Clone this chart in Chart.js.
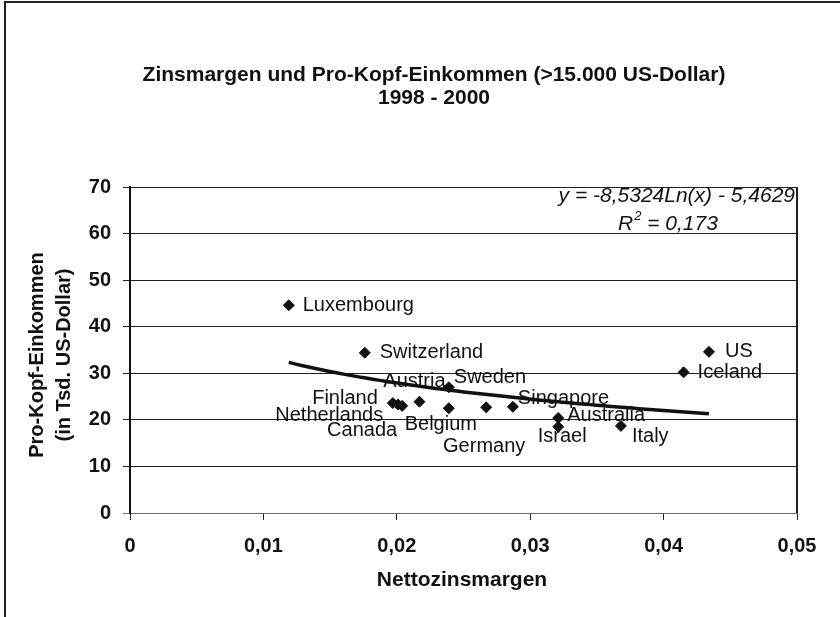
<!DOCTYPE html>
<html>
<head>
<meta charset="utf-8">
<script src="https://cdn.jsdelivr.net/npm/chart.js@4.4.0/dist/chart.umd.min.js"></script>
<style>
    html, body { margin: 0; padding: 0; background: #fff; }
</style>
</head>
<body>
<canvas id="zinsChart" width="840" height="617"></canvas>
<script>
// Werte
var countries = ['Luxembourg', 'Switzerland', 'Finland', 'Netherlands', 'Canada', 'Austria', 'Sweden',
    'Belgium', 'Germany', 'Singapore', 'Australia', 'Israel', 'Italy', 'Iceland', 'US'];
var margins = [0.0119, 0.0176, 0.0197, 0.0201, 0.0204, 0.0217, 0.0239,
    0.0239, 0.0267, 0.0287, 0.0321, 0.0321, 0.0368, 0.0415, 0.0434];
var incomes = [44.6, 34.4, 23.6, 23.3, 23.0, 23.9, 27.0,
    22.5, 22.7, 22.8, 20.4, 18.5, 18.7, 30.2, 34.6];

var xTicks = [0, 0.01, 0.02, 0.03, 0.04, 0.05];
var yTicks = [0, 10, 20, 30, 40, 50, 60, 70];

// Trendlinie laut Diagramm: y = -8,5324 Ln(x) - 5,4629
var trendA = -8.5324;
var trendB = -5.4629;
var trendLabel = 'y = -8,5324Ln(x) - 5,4629';
var trendR2 = '0,173';

// Lage der Beschriftungen relativ zum Punkt (Pixel)
var labelDx = [14, 15, -15, -15, -5, -5, 5, -8, -2, 5, 9, 4, 11, 14, 16];
var labelDy = [0, 0, -5, 11, 25, -20, -10, 16, 39, -8, -3, 10, 11, 0, 0];
var labelAlign = ['left', 'left', 'right', 'right', 'right', 'center', 'left',
    'center', 'center', 'left', 'left', 'center', 'left', 'left', 'left'];

var FONT = '"Liberation Sans", Arial, sans-serif';

var points = margins.map(function (m, i) { return { x: m, y: incomes[i] }; });

var trendPoints = [];
var xMin = Math.min.apply(null, margins);
var xMax = Math.max.apply(null, margins);
for (var k = 0; k <= 60; k++) {
    var xv = xMin + (xMax - xMin) * k / 60;
    trendPoints.push({ x: xv, y: trendA * Math.log(xv) + trendB });
}

var pointLabels = {
    id: 'pointLabels',
    afterDatasetsDraw: function (chart) {
        var ctx = chart.ctx;
        var meta = chart.getDatasetMeta(1);
        ctx.save();
        ctx.font = '20px ' + FONT;
        ctx.fillStyle = '#111';
        ctx.textBaseline = 'middle';
        meta.data.forEach(function (pt, i) {
            ctx.textAlign = labelAlign[i];
            ctx.fillText(countries[i], pt.x + labelDx[i], pt.y + labelDy[i]);
        });
        ctx.restore();
    }
};

var decorations = {
    id: 'decorations',
    afterDraw: function (chart) {
        var ctx = chart.ctx;
        var area = chart.chartArea;
        ctx.save();
        // Rahmen
        ctx.strokeStyle = '#222';
        ctx.lineWidth = 2;
        ctx.beginPath();
        ctx.moveTo(5, 617);
        ctx.lineTo(5, 2);
        ctx.lineTo(840, 2);
        ctx.stroke();
        ctx.beginPath();
        ctx.moveTo(area.right, area.top);
        ctx.lineTo(area.right, area.bottom);
        ctx.stroke();

        ctx.fillStyle = '#111';
        ctx.textAlign = 'center';
        ctx.textBaseline = 'middle';
        ctx.font = 'bold 21px ' + FONT;
        ctx.fillText('Zinsmargen und Pro-Kopf-Einkommen (>15.000 US-Dollar)', 434, 75);
        ctx.fillText('1998 - 2000', 434, 98);

        ctx.fillText('Nettozinsmargen', 462, 580);

        ctx.save();
        ctx.translate(37, 355);
        ctx.rotate(-Math.PI / 2);
        ctx.font = 'bold 20px ' + FONT;
        ctx.fillText('Pro-Kopf-Einkommen', 0, 0);
        ctx.fillText('(in Tsd. US-Dollar)', 0, 27);
        ctx.restore();

        // Gleichung der Trendlinie
        ctx.font = 'italic 21px ' + FONT;
        ctx.textAlign = 'right';
        ctx.fillText(trendLabel, 795, 196);
        ctx.textAlign = 'left';
        var rx = 618;
        ctx.fillText('R', rx, 224);
        rx += ctx.measureText('R').width + 1;
        ctx.font = 'italic 13px ' + FONT;
        ctx.fillText('2', rx, 216);
        rx += ctx.measureText('2').width;
        ctx.font = 'italic 21px ' + FONT;
        ctx.fillText(' = ' + trendR2, rx, 224);
        ctx.restore();
    }
};

var ctx = document.getElementById('zinsChart').getContext('2d');
var zinsChart = new Chart(ctx, {
    type: 'scatter',
    data: {
        datasets: [{
            type: 'line',
            label: 'Trend',
            data: trendPoints,
            borderColor: '#111',
            borderWidth: 3.5,
            pointRadius: 0,
            fill: false,
            tension: 0
        }, {
            label: 'Länder',
            data: points,
            pointStyle: 'rectRot',
            pointRadius: 5.5,
            backgroundColor: '#111',
            borderColor: '#111'
        }]
    },
    options: {
        responsive: false,
        animation: false,
        layout: { padding: { top: 187, right: 43, bottom: 0, left: 0 } },
        plugins: {
            legend: { display: false },
            tooltip: { enabled: false },
            title: { display: false }
        },
        scales: {
            x: {
                type: 'linear',
                min: 0,
                max: 0.05,
                afterBuildTicks: function (scale) {
                    scale.ticks = xTicks.map(function (v) { return { value: v }; });
                },
                afterFit: function (scale) { scale.height = 104; },
                ticks: {
                    callback: function (v) { return v === 0 ? '0' : v.toFixed(2).replace('.', ','); },
                    font: { family: FONT, size: 20, weight: 'bold' },
                    color: '#111',
                    padding: 14,
                    maxRotation: 0
                },
                grid: { drawOnChartArea: false, tickLength: 7, color: '#222' },
                border: { color: '#666', width: 1 }
            },
            y: {
                min: 0,
                max: 70,
                afterBuildTicks: function (scale) {
                    scale.ticks = yTicks.map(function (v) { return { value: v }; });
                },
                afterFit: function (scale) { scale.width = 130; },
                ticks: {
                    font: { family: FONT, size: 20, weight: 'bold' },
                    color: '#111',
                    padding: 12
                },
                grid: {
                    tickLength: 7,
                    color: function (c) { return c.tick && c.tick.value === 0 ? '#777' : '#222'; }
                },
                border: { color: '#111', width: 2 }
            }
        }
    },
    plugins: [pointLabels, decorations]
});
</script>
</body>
</html>
